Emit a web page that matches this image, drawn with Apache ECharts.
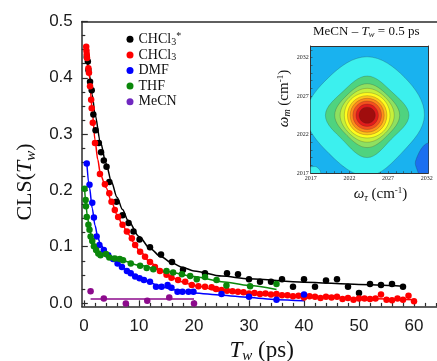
<!DOCTYPE html>
<html><head><meta charset="utf-8">
<script src="https://cdn.jsdelivr.net/npm/echarts@6/dist/echarts.min.js"></script>
<style>html,body{margin:0;padding:0;background:#fff}#c{width:437px;height:361px}</style>
</head><body><div id="c"></div>
<script>
// ---------- data ----------
const seriesNames = ['CHCl3*', 'CHCl3', 'DMF', 'THF', 'MeCN'];
const seriesColors = ['#000000', '#ff0000', '#0000ff', '#0a870a', '#8c0a8c'];

const blackX = [0.5,0.7,0.8,1.1,1.4,1.7,2.1,2.7,3.1,3.6,4.1,4.6,5.9,7.0,8.1,9.0,10.1,12.0,14.0,16.0,18.0,22.0,26.0,28.0,30.0,32.0,34.0,36.0,38.0,40.0,42.0,44.0,46.0,48.0,50.0,52.0,54.0,56.0,58.0];
const blackY = [0.437,0.429,0.414,0.393,0.378,0.335,0.307,0.284,0.268,0.253,0.242,0.215,0.180,0.156,0.142,0.127,0.113,0.099,0.086,0.073,0.059,0.053,0.053,0.051,0.042,0.038,0.038,0.042,0.029,0.042,0.029,0.040,0.042,0.029,0.018,0.034,0.032,0.034,0.029];
const blackFitX = [0.5,1,1.5,2,3,4,5,6,7,8,10,12,14,16,18,20,25,30,40,50,58];
const blackFitY = [0.440,0.405,0.370,0.335,0.285,0.248,0.215,0.188,0.166,0.147,0.118,0.097,0.082,0.071,0.063,0.057,0.048,0.043,0.037,0.033,0.030];

const redX = [0.4,0.45,0.5,0.55,0.8,0.9,1.1,1.3,1.4,1.6,2.0,2.9,3.8,4.6,5.0,5.6,6.2,7.0,7.8,8.7,9.3,10.2,11.1,12.0,12.9,13.8,15.0,15.9,17.1,18.4,19.6,20.8,22.0,23.2,24,25,26,27,28,29,30,31,32,33,34,35,36,37,38,39,40,41,42,43,44,45,46,47,48,49,50,51,52,53,54,55,56,57,58,59,60];
const redY = [0.455,0.448,0.442,0.435,0.417,0.409,0.385,0.361,0.346,0.320,0.284,0.229,0.211,0.195,0.180,0.165,0.153,0.139,0.127,0.115,0.103,0.091,0.082,0.073,0.064,0.057,0.050,0.045,0.041,0.038,0.032,0.030,0.029,0.028,0.025,0.023,0.022,0.021,0.020,0.019,0.017,0.018,0.016,0.017,0.015,0.016,0.014,0.014,0.012,0.013,0.010,0.012,0.011,0.009,0.011,0.010,0.011,0.007,0.009,0.006,0.008,0.008,0.007,0.008,0.015,0.006,0.005,0.008,0.006,0.013,0.003];
const redFitX = [0.4,0.7,1,1.5,2,2.5,3,4,5,6,7,8,9,10,12,14,16,18,20,25,30,40,50,60];
const redFitY = [0.460,0.430,0.400,0.340,0.290,0.255,0.228,0.205,0.180,0.157,0.139,0.123,0.108,0.094,0.073,0.057,0.045,0.037,0.031,0.021,0.016,0.011,0.008,0.006];

const blueX = [0.5,1.0,1.5,1.8,2.3,2.8,3.6,4.4,5.3,6.1,6.9,7.8,8.5,9.3,10.1,10.9,12.0,13.1,14.1,15.2,15.9,17.0,17.9,19.0,19.9,25,30,35,40];
const blueY = [0.248,0.210,0.178,0.152,0.118,0.103,0.094,0.085,0.078,0.070,0.064,0.057,0.053,0.047,0.044,0.041,0.038,0.029,0.029,0.032,0.027,0.020,0.020,0.020,0.020,0.016,0.011,0.006,0.015];
const blueFitX = [0.5,1,1.5,2,2.5,3,4,5,6,7,8,9,10,12,14,16,18,20,25,30,35,40];
const blueFitY = [0.250,0.205,0.168,0.138,0.117,0.104,0.089,0.080,0.072,0.064,0.057,0.050,0.045,0.036,0.029,0.024,0.021,0.018,0.014,0.010,0.006,0.004];

const greenX = [0.1,0.3,0.35,0.5,0.8,1.0,1.2,1.5,1.8,2.2,2.6,3.0,4.0,4.6,5.6,6.5,7.1,8.5,10.2,11.4,12.6,15.0,16.2,17.8,19.3,20.5,22.0,24.1,25.9,30.2,35.0];
const greenY = [0.203,0.183,0.172,0.153,0.139,0.130,0.118,0.110,0.101,0.094,0.088,0.085,0.087,0.081,0.079,0.078,0.076,0.070,0.066,0.062,0.060,0.057,0.054,0.051,0.048,0.042,0.046,0.041,0.031,0.030,0.034];
const greenFitX = [0.1,0.3,0.6,1,1.5,2,2.5,3,4,5,7,10,15,20,25,30,35];
const greenFitY = [0.205,0.180,0.155,0.132,0.112,0.099,0.092,0.087,0.083,0.080,0.075,0.067,0.056,0.047,0.038,0.031,0.024];

const purpleX = [1.2,3.6,7.6,11.5,15.5,20.0];
const purpleY = [0.021,0.008,-0.001,0.004,0.010,-0.001];
const purpleFitX = [1.2,20.0];
const purpleFitY = [0.007,0.007];

const xMajorTicks = [0,10,20,30,40,50,60];
const xMinorTicks = [2,4,6,8,12,14,16,18,22,24,26,28,32,34,36,38,42,44,46,48,52,54,56,58,62,64];
const yMajorTicks = [0,0.1,0.2,0.3,0.4,0.5];
const yMinorTicks = [0.025,0.05,0.075,0.125,0.15,0.175,0.225,0.25,0.275,0.325,0.35,0.375,0.425,0.45,0.475];

// inset (2D IR spectrum, MeCN, Tw = 0.5 ps): contour regions, outer -> inner
const insetTickLabels = [2017,2022,2027,2032];
const insetXTicks = [2017,2018,2019,2020,2021,2022,2023,2024,2025,2026,2027,2028,2029,2030,2031,2032];
const insetYTicks = [2017,2018,2019,2020,2021,2022,2023,2024,2025,2026,2027,2028,2029,2030,2031,2032,2033];
const contourColors = ['#1b6ff0','#3cf0ee','#3cf0ee','#4fd37f','#8fe060','#c6f03a','#fffc1e','#ffc21a','#ff8c1a','#f5501e','#e11b1b','#a00d0d'];
const contourCenters = [[2032.2,2017],[2017,2017],[2024.3,2024.5],[2024.3,2024.5],[2024.3,2024.5],[2024.3,2024.5],[2024.3,2024.5],[2024.3,2024.5],[2024.3,2024.5],[2024.3,2024.5],[2024.3,2024.5],[2024.3,2024.5]];
// radii in directions E, NE, N, NW, W, SW, S, SE (cm-1)
const contourRadii = [
  [1.5,3.0,3.9,2.3,1.3,1.3,1.5,1.5],
  [1.3,1.1,0.8,1.0,1.0,1.0,1.0,1.0],
  [7.4,6.9,7.6,7.0,7.9,7.0,7.9,6.6],
  [5.4,4.4,5.1,4.4,5.4,4.5,5.5,4.4],
  [4.2,3.7,4.1,3.7,4.2,3.7,4.2,3.7],
  [3.5,3.3,3.5,3.3,3.5,3.3,3.5,3.3],
  [2.95,2.95,2.95,2.95,2.95,2.95,2.95,2.95],
  [2.55,2.55,2.55,2.55,2.55,2.55,2.55,2.55],
  [2.2,2.2,2.2,2.2,2.2,2.2,2.2,2.2],
  [1.85,1.85,1.85,1.85,1.85,1.85,1.85,1.85],
  [1.45,1.45,1.45,1.45,1.45,1.45,1.45,1.45],
  [1.05,1.05,1.05,1.05,1.05,1.05,1.05,1.05]
];
const insetBackground = '#19b2ef';

// ---------- helpers ----------
const zip = (xs, ys) => xs.map((x, i) => [x, ys[i]]);
const SERIF = 'Liberation Serif, Times New Roman, serif';
const SANS = 'Liberation Sans, Arial, sans-serif';
const axisColor = '#2b2b2b';
const legendRich = {
  a: {fontFamily: SERIF, fontSize: 14, lineHeight: 15.6, color: '#111'},
  s: {fontFamily: SERIF, fontSize: 10, lineHeight: 8, verticalAlign: 'bottom', color: '#111'},
  p: {fontFamily: SERIF, fontSize: 10, lineHeight: 8, verticalAlign: 'top', color: '#111'}
};
const legendText = {'CHCl3*': '{a|CHCl}{s|3}{p|*}', 'CHCl3': '{a|CHCl}{s|3}'};

function renderContour(params, api) {
  const i = params.dataIndex;
  const c = contourCenters[i], r = contourRadii[i];
  const pts = [];
  for (let k = 0; k < 8; k++) {
    const ang = k * Math.PI / 4;
    pts.push(api.coord([c[0] + r[k] * Math.cos(ang), c[1] + r[k] * Math.sin(ang)]));
  }
  const cs = params.coordSys;
  return {
    type: 'polygon',
    shape: {points: pts, smooth: 0.375},
    style: {fill: contourColors[i], stroke: 'rgba(40,40,40,0.45)', lineWidth: 0.5},
    clipPath: {type: 'rect', shape: {x: cs.x, y: cs.y, width: cs.width, height: cs.height}}
  };
}

const scatterSets = [zip(blackX, blackY), zip(redX, redY), zip(blueX, blueY), zip(greenX, greenY), zip(purpleX, purpleY)];
const fitSets = [zip(blackFitX, blackFitY), zip(redFitX, redFitY), zip(blueFitX, blueFitY), zip(greenFitX, greenFitY), zip(purpleFitX, purpleFitY)];

const series = [];
fitSets.forEach((d, i) => series.push({
  name: seriesNames[i] + ' fit', type: 'line', xAxisIndex: 0, yAxisIndex: 0, data: d,
  showSymbol: false, smooth: 0.3, smoothMonotone: 'x',
  lineStyle: {color: seriesColors[i], width: 1.5}, z: 3
}));
scatterSets.forEach((d, i) => series.push({
  name: seriesNames[i], type: 'scatter', xAxisIndex: 0, yAxisIndex: 0, data: d,
  symbol: 'circle', symbolSize: 6.5, itemStyle: {color: seriesColors[i], opacity: 1}, z: 4
}));
series.push({
  type: 'custom', xAxisIndex: 3, yAxisIndex: 2, renderItem: renderContour,
  data: contourColors.map((c, i) => [i]), z: 5, silent: true
});

const tickLine = {color: axisColor, width: 1.2};
const insetLabel = {show: true, customValues: insetTickLabels, fontFamily: SERIF, fontSize: 6, color: '#222', margin: 2, formatter: v => String(v)};
const option = {
  animation: false,
  backgroundColor: '#fff',
  title: {
    text: '{a|MeCN – }{i|T}{s|w}{a| = 0.5 ps}',
    left: 313, top: 24, padding: 0,
    textStyle: {fontWeight: 'normal', rich: {
      a: {fontFamily: SERIF, fontSize: 13, fontWeight: 'normal', lineHeight: 15, color: '#111'},
      i: {fontFamily: SERIF, fontSize: 13, fontWeight: 'normal', fontStyle: 'italic', lineHeight: 15, color: '#111'},
      s: {fontFamily: SERIF, fontSize: 9, fontWeight: 'normal', fontStyle: 'italic', lineHeight: 8, verticalAlign: 'bottom', color: '#111'}
    }}
  },
  legend: {
    orient: 'vertical', left: 126.5, top: 31.5, padding: 0, itemGap: 0,
    itemWidth: 7, itemHeight: 7, icon: 'circle',
    data: seriesNames.map((n, i) => i === 4 ? {name: n, itemStyle: {color: '#7028c0'}} : {name: n}),
    formatter: n => legendText[n] || ('{a|' + n + '}'),
    textStyle: {fontFamily: SERIF, fontSize: 14, lineHeight: 15.6, rich: legendRich}
  },
  grid: [
    {left: 81.8, top: 21.5, right: -4.5, bottom: 54.6, containLabel: false, outerBoundsMode: 'none'},
    {left: 310.7, top: 46, width: 117.6, height: 127, containLabel: false, outerBoundsMode: 'none', show: true, backgroundColor: insetBackground, borderWidth: 0}
  ],
  xAxis: [
    {type: 'value', gridIndex: 0, min: -0.4, max: 65, position: 'bottom',
     axisLine: {show: true, onZero: false, lineStyle: {color: axisColor, width: 1.5}},
     axisTick: {show: true, inside: true, length: 6, customValues: xMajorTicks, lineStyle: tickLine},
     axisLabel: {show: true, customValues: xMajorTicks, fontFamily: SANS, fontSize: 17, color: '#1a1a1a', margin: 11},
     splitLine: {show: false},
     name: '{i|T}{s|w}{a| (ps)}', nameLocation: 'middle', nameGap: 30,
     nameTextStyle: {rich: {
       a: {fontFamily: SERIF, fontSize: 23, lineHeight: 26, color: '#111'},
       i: {fontFamily: SERIF, fontSize: 23, fontStyle: 'italic', lineHeight: 26, color: '#111'},
       s: {fontFamily: SERIF, fontSize: 15, fontStyle: 'italic', lineHeight: 10, verticalAlign: 'bottom', color: '#111'}
     }}},
    {type: 'value', gridIndex: 0, min: -0.4, max: 65, position: 'bottom',
     axisLine: {show: false, onZero: false},
     axisTick: {show: true, inside: true, length: 3.5, customValues: xMinorTicks, lineStyle: tickLine},
     axisLabel: {show: false}, splitLine: {show: false}},
    {type: 'value', gridIndex: 0, min: -0.4, max: 65, position: 'top',
     axisLine: {show: true, onZero: false, lineStyle: {color: axisColor, width: 1.5}},
     axisTick: {show: false}, axisLabel: {show: false}, splitLine: {show: false}},
    {type: 'value', gridIndex: 1, min: 2017, max: 2032.2, position: 'bottom',
     axisLine: {show: true, onZero: false, lineStyle: {color: '#333', width: 1}},
     axisTick: {show: true, inside: true, length: 1.8, customValues: insetXTicks, lineStyle: {color: '#333', width: 0.6}},
     axisLabel: insetLabel,
     splitLine: {show: false},
     name: '{i|ω}{s|τ}{a| (cm}{p|-1}{a|)}', nameLocation: 'middle', nameGap: 13,
     nameTextStyle: {padding: [0, 0, 0, 22], rich: {
       a: {fontFamily: SERIF, fontSize: 15, lineHeight: 17, color: '#111'},
       i: {fontFamily: SERIF, fontSize: 15, fontStyle: 'italic', lineHeight: 17, color: '#111'},
       s: {fontFamily: SERIF, fontSize: 10, fontStyle: 'italic', lineHeight: 8, verticalAlign: 'bottom', color: '#111'},
       p: {fontFamily: SERIF, fontSize: 9, lineHeight: 8, verticalAlign: 'top', color: '#111'}
     }}},
    {type: 'value', gridIndex: 1, min: 2017, max: 2032.2, position: 'top',
     axisLine: {show: true, onZero: false, lineStyle: {color: '#333', width: 1}},
     axisTick: {show: false}, axisLabel: {show: false}, splitLine: {show: false}}
  ],
  yAxis: [
    {type: 'value', gridIndex: 0, min: -0.006, max: 0.5, position: 'left',
     axisLine: {show: true, onZero: false, lineStyle: {color: axisColor, width: 1.5}},
     axisTick: {show: true, inside: true, length: 6, customValues: yMajorTicks, lineStyle: tickLine},
     axisLabel: {show: true, customValues: yMajorTicks, fontFamily: SANS, fontSize: 17, color: '#1a1a1a', margin: 9,
                 formatter: v => v.toFixed(1)},
     splitLine: {show: false},
     name: '{a|CLS(}{i|T}{s|w}{a|)}', nameLocation: 'middle', nameRotate: 90, nameGap: 43,
     nameTextStyle: {padding: [0, 36, 0, 0], rich: {
       a: {fontFamily: SERIF, fontSize: 22, lineHeight: 26, color: '#111'},
       i: {fontFamily: SERIF, fontSize: 22, fontStyle: 'italic', lineHeight: 26, color: '#111'},
       s: {fontFamily: SERIF, fontSize: 15, fontStyle: 'italic', lineHeight: 12, verticalAlign: 'bottom', color: '#111'}
     }}},
    {type: 'value', gridIndex: 0, min: -0.006, max: 0.5, position: 'left',
     axisLine: {show: false, onZero: false},
     axisTick: {show: true, inside: true, length: 3.5, customValues: yMinorTicks, lineStyle: tickLine},
     axisLabel: {show: false}, splitLine: {show: false}},
    {type: 'value', gridIndex: 1, min: 2017, max: 2033.5, position: 'left',
     axisLine: {show: true, onZero: false, lineStyle: {color: '#333', width: 1}},
     axisTick: {show: true, inside: true, length: 1.8, customValues: insetYTicks, lineStyle: {color: '#333', width: 0.6}},
     axisLabel: insetLabel,
     splitLine: {show: false},
     name: '{i|ω}{s|m}{a| (cm}{p|-1}{a|)}', nameLocation: 'middle', nameRotate: 90, nameGap: 13,
     nameTextStyle: {padding: [0, 0, 0, 22], rich: {
       a: {fontFamily: SERIF, fontSize: 15, lineHeight: 17, color: '#111'},
       i: {fontFamily: SERIF, fontSize: 15, fontStyle: 'italic', lineHeight: 17, color: '#111'},
       s: {fontFamily: SERIF, fontSize: 10, fontStyle: 'italic', lineHeight: 8, verticalAlign: 'bottom', color: '#111'},
       p: {fontFamily: SERIF, fontSize: 9, lineHeight: 8, verticalAlign: 'top', color: '#111'}
     }}},
    {type: 'value', gridIndex: 1, min: 2017, max: 2033.5, position: 'right',
     axisLine: {show: true, onZero: false, lineStyle: {color: '#333', width: 1}},
     axisTick: {show: false}, axisLabel: {show: false}, splitLine: {show: false}}
  ],
  series: series
};
const chart = echarts.init(document.getElementById('c'), null, {renderer: 'canvas'});
chart.setOption(option);
</script>
</body></html>
